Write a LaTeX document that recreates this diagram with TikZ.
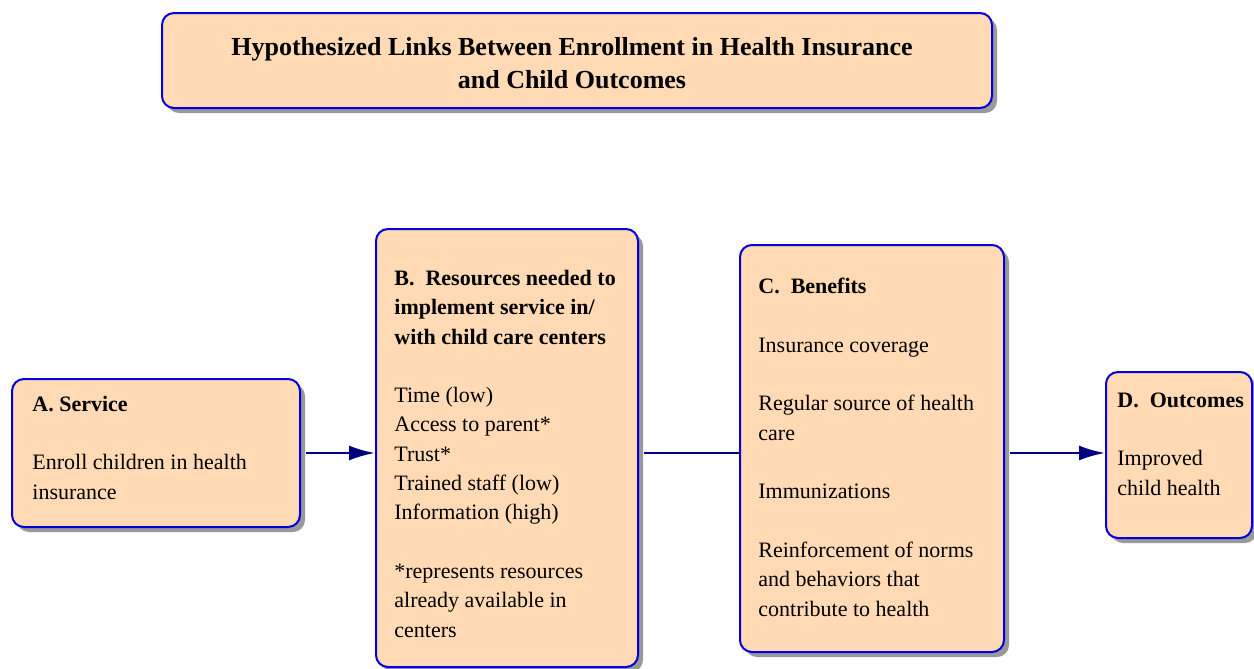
\documentclass[tikz,border=0pt]{standalone}
\usepackage{fontspec}
\setmainfont{Liberation Serif}
\usetikzlibrary{arrows.meta,positioning,shadows}

\definecolor{boxfill}{RGB}{255,218,180}
\definecolor{boxline}{RGB}{0,0,220}
\definecolor{linknavy}{RGB}{0,0,128}

\begin{document}
\begin{tikzpicture}[x=0.5pt, y=-0.5pt,
    box/.style={rectangle, rounded corners=6pt, draw=boxline, line width=1pt, fill=boxfill, inner sep=0pt,
      drop shadow={shadow xshift=2.5pt, shadow yshift=-2.5pt, fill=black!40, opacity=1}},
    boxtext/.style={anchor=base west, align=left, inner sep=0pt, font=\fontsize{11}{14.65}\selectfont},
    arrow/.style={-{Latex[length=13pt,width=7.5pt]}, line width=1.2pt, draw=linknavy},
    link/.style={line width=1.2pt, draw=linknavy}
  ]
  \useasboundingbox (0,0) rectangle (1254,669);
  \clip (0,0) rectangle (1254,669);
  % Boxes
  \node[box, minimum width=415pt, minimum height=47.5pt] (title) at (577,60.5) {};
  \node[box, minimum width=144pt, minimum height=74pt] (service) at (156,453) {};
  \node[box, minimum width=131pt, minimum height=219pt] (resources) at (507,448) {};
  \node[box, minimum width=132pt, minimum height=203.5pt] (benefits) at (872,448.5) {};
  \node[box, minimum width=73pt, minimum height=83pt] (outcomes) at (1179,455) {};
  % Texts (anchored at the baseline of the last line)
  \node[align=center, font=\fontsize{13}{16.5}\selectfont\bfseries] (title text) at (572,63.5)
    {Hypothesized Links Between Enrollment in Health Insurance\\and Child Outcomes};
  \node[boxtext] (service text) at (32,499)
    {\textbf{A. Service}\\[14.65pt] Enroll children in health\\ insurance};
  \node[boxtext] (resources text) at (394,637)
    {\textbf{B.~~Resources needed to}\\ \textbf{implement service in/}\\ \textbf{with child care centers}\\[14.65pt]
     Time (low)\\ Access to parent*\\ Trust*\\ Trained staff (low)\\ Information (high)\\[14.65pt]
     *represents resources\\ already available in\\ centers};
  \node[boxtext] (benefits text) at (758,616)
    {\textbf{C.~~Benefits}\\[14.65pt] Insurance coverage\\[14.65pt] Regular source of health\\ care\\[14.65pt]
     Immunizations\\[14.65pt] Reinforcement of norms\\ and behaviors that\\ contribute to health};
  \node[boxtext] (outcomes text) at (1117,495)
    {\textbf{D.~~Outcomes}\\[14.65pt] Improved\\ child health};
  % Links
  \draw[arrow] ([xshift=2.5pt]service.east) -- (service.east -| resources.west);
  \draw[link] ([xshift=2.5pt]service.east -| resources.east) -- (service.east -| benefits.west);
  \draw[arrow] ([xshift=2.5pt]service.east -| benefits.east) -- (service.east -| outcomes.west);
\end{tikzpicture}
\end{document}
